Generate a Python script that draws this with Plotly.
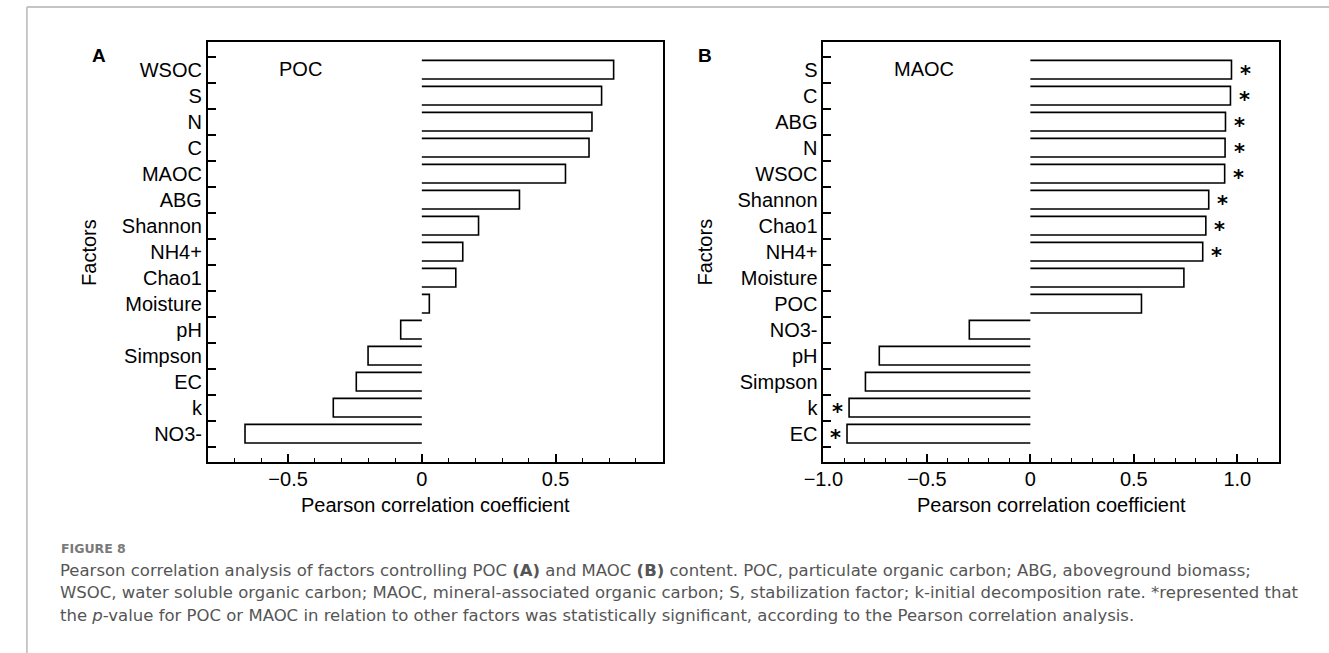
import plotly.graph_objects as go

W, H = 1329, 653

# ---------------- data ----------------
factors_a = ["WSOC", "S", "N", "C", "MAOC", "ABG", "Shannon", "NH4+", "Chao1",
             "Moisture", "pH", "Simpson", "EC", "k", "NO3-"]
r_a = [0.717, 0.672, 0.636, 0.625, 0.537, 0.365, 0.212, 0.153, 0.127,
       0.028, -0.079, -0.201, -0.245, -0.331, -0.661]
sig_a = [False] * 15

factors_b = ["S", "C", "ABG", "N", "WSOC", "Shannon", "Chao1", "NH4+", "Moisture",
             "POC", "NO3-", "pH", "Simpson", "k", "EC"]
r_b = [0.972, 0.967, 0.943, 0.941, 0.939, 0.862, 0.848, 0.833, 0.742,
       0.537, -0.295, -0.730, -0.797, -0.876, -0.886]
sig_b = [True, True, True, True, True, True, True, True, False,
         False, False, False, False, True, True]

tickvals_a = [-0.5, 0, 0.5]
ticktext_a = ["\u22120.5", "0", "0.5"]
tickvals_b = [-1.0, -0.5, 0, 0.5, 1.0]
ticktext_b = ["\u22121.0", "\u22120.5", "0", "0.5", "1.0"]

panel_titles = ["POC", "MAOC"]
panel_letters = ["A", "B"]
x_title = "Pearson correlation coefficient"
y_title = "Factors"

caption_head = "FIGURE 8"
caption_lines = [
    "Pearson correlation analysis of factors controlling POC <b>(A)</b> and MAOC <b>(B)</b> content. POC, particulate organic carbon; ABG, aboveground biomass;",
    "WSOC, water soluble organic carbon; MAOC, mineral-associated organic carbon; S, stabilization factor; k-initial decomposition rate. *represented that",
    "the <i>p</i>-value for POC or MAOC in relation to other factors was statistically significant, according to the Pearson correlation analysis.",
]

# ---------------- helpers (layout only) ----------------
def px(x):
    return x / W

def py(y):
    return 1 - y / H

FONT = "Liberation Sans, Arial, Helvetica, sans-serif"
STAR_FONT = "DejaVu Sans, Liberation Sans, sans-serif"
CAP_FONT = "DejaVu Sans, Open Sans, sans-serif"

half = 0.36  # half bar thickness in category units

fig = go.Figure()

panels = [
    dict(f=factors_a, r=r_a, s=sig_a, xa="x", ya="y", rng=[-0.8, 0.9],
         tv=tickvals_a, tt=ticktext_a, dom=[px(190.7), px(652.4)]),
    dict(f=factors_b, r=r_b, s=sig_b, xa="x2", ya="y2", rng=[-1.0, 1.2],
         tv=tickvals_b, tt=ticktext_b, dom=[px(815.7), px(1277.9)]),
]

annotations = []
for k, p in enumerate(panels):
    xs, ys = [], []
    for i, v in enumerate(p["r"]):
        xs += [0, v, v, 0, None]
        ys += [i - half, i - half, i + half, i + half, None]
    fig.add_trace(go.Scatter(x=xs, y=ys, mode="lines", xaxis=p["xa"], yaxis=p["ya"],
                             line=dict(color="black", width=1.6), showlegend=False,
                             hoverinfo="skip"))
    for i, (v, s) in enumerate(zip(p["r"], p["s"])):
        if s:
            annotations.append(dict(x=v, y=i, xref=p["xa"], yref=p["ya"], text="<b>*</b>",
                                    showarrow=False, xanchor="center", yanchor="middle",
                                    borderpad=0,
                                    xshift=14 if v > 0 else -12, yshift=-4,
                                    font=dict(family=STAR_FONT, size=21, color="black")))

y_dom = [py(461.7), py(41.7)]
n = len(factors_a)
boundaries = [i - 0.5 for i in range(n + 1)]

common_x = dict(showgrid=False, zeroline=False, showline=True, linecolor="black",
                linewidth=1.8, mirror=True, ticks="inside", ticklen=8, tickwidth=1.6,
                tickcolor="black", tickfont=dict(family=FONT, size=20, color="black"),
                tickmode="array", ticklabelstandoff=-2,
                minor=dict(tickmode="linear", tick0=0, dtick=0.1, ticks="inside",
                           ticklen=4, tickwidth=1.4, tickcolor="black"))
common_y = dict(showgrid=False, zeroline=False, showline=True, linecolor="black",
                linewidth=1.8, mirror=True, ticks="", tickmode="array",
                range=[n - 0.5 + 0.577, -0.5 - 0.577], domain=y_dom,
                tickfont=dict(family=FONT, size=20, color="black"), ticklabelstandoff=0,
                minor=dict(tickmode="array", tickvals=boundaries, ticks="inside",
                           ticklen=8, tickwidth=1.6, tickcolor="black"))

fig.update_layout(
    xaxis=dict(common_x, domain=panels[0]["dom"], range=panels[0]["rng"],
               tickvals=panels[0]["tv"], ticktext=panels[0]["tt"], anchor="y"),
    yaxis=dict(common_y, tickvals=list(range(n)), ticktext=factors_a, anchor="x"),
    xaxis2=dict(common_x, domain=panels[1]["dom"], range=panels[1]["rng"],
                tickvals=panels[1]["tv"], ticktext=panels[1]["tt"], anchor="y2"),
    yaxis2=dict(common_y, tickvals=list(range(n)), ticktext=factors_b, anchor="x2"),
)

# axis titles, panel letters, inner titles
for k, p in enumerate(panels):
    cx = (p["dom"][0] + p["dom"][1]) / 2
    annotations.append(dict(x=cx, y=py(505), xref="paper", yref="paper", text=x_title,
                            showarrow=False, xanchor="center", yanchor="middle",
                            font=dict(family=FONT, size=20, color="black")))
annotations.append(dict(x=px(70), y=py(252), xref="paper", yref="paper", text=y_title,
                        textangle=-90, showarrow=False, xanchor="center", yanchor="middle",
                        font=dict(family=FONT, size=20, color="black")))
annotations.append(dict(x=px(695), y=py(252), xref="paper", yref="paper", text=y_title,
                        textangle=-90, showarrow=False, xanchor="center", yanchor="middle",
                        font=dict(family=FONT, size=20, color="black")))
annotations.append(dict(x=px(80), y=py(56), xref="paper", yref="paper",
                        text="<b>" + panel_letters[0] + "</b>", showarrow=False,
                        xanchor="center", yanchor="middle",
                        font=dict(family=FONT, size=19, color="black")))
annotations.append(dict(x=px(695.5), y=py(56), xref="paper", yref="paper",
                        text="<b>" + panel_letters[1] + "</b>", showarrow=False,
                        xanchor="center", yanchor="middle",
                        font=dict(family=FONT, size=19, color="black")))
annotations.append(dict(x=px(261), y=py(69), xref="paper", yref="paper",
                        text=panel_titles[0], showarrow=False, xanchor="left", yanchor="middle",
                        font=dict(family=FONT, size=20, color="black")))
annotations.append(dict(x=px(885), y=py(69), xref="paper", yref="paper",
                        text=panel_titles[1], showarrow=False, xanchor="left", yanchor="middle",
                        font=dict(family=FONT, size=20, color="black")))

# caption
annotations.append(dict(x=px(40), y=py(548), xref="paper", yref="paper",
                        text="<b>" + caption_head + "</b>", showarrow=False,
                        xanchor="left", yanchor="middle",
                        font=dict(family=CAP_FONT, size=12.5, color="#7a7a7a")))
for j, line in enumerate(caption_lines):
    annotations.append(dict(x=px(39), y=py(570 + 22.5 * j), xref="paper", yref="paper",
                            text=line, showarrow=False, xanchor="left", yanchor="middle",
                            font=dict(family=CAP_FONT, size=16.5, color="#555555")))

shapes = [
    dict(type="line", xref="paper", yref="paper", x0=px(7), x1=1, y0=py(7), y1=py(7),
         line=dict(color="#c4c4c4", width=1.8)),
    dict(type="line", xref="paper", yref="paper", x0=px(7), x1=px(7), y0=py(7), y1=0,
         line=dict(color="#c4c4c4", width=1.8)),
]

fig.update_layout(width=W, height=H, margin=dict(l=0, r=0, t=0, b=0),
                  paper_bgcolor="white", plot_bgcolor="white",
                  annotations=annotations, shapes=shapes, showlegend=False)

fig.write_html("out.html")
